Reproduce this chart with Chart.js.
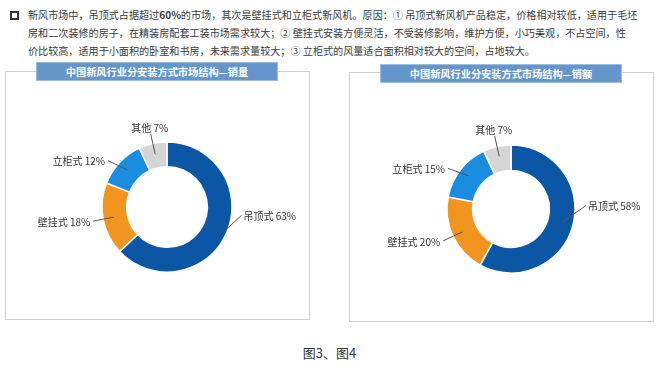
<!DOCTYPE html>
<html><head><meta charset="utf-8">
<script src="https://cdn.jsdelivr.net/npm/chart.js@4.4.0/dist/chart.umd.min.js"></script>
<style>
html,body{margin:0;padding:0;background:#fff;width:659px;height:370px;overflow:hidden;font-family:"Noto Sans CJK SC","Noto Sans",sans-serif;}
.para{position:absolute;left:28px;top:6px;font-size:10.1px;line-height:18px;color:#3a3a3a;white-space:nowrap;}
.bullet{position:absolute;left:10px;top:11px;width:5px;height:5px;border:2px solid #333;}
.panel{position:absolute;border:1px solid #cfcfd4;background:#fff;}
.banner{position:absolute;height:17px;background:#6495cb;border:1px solid #9dbde0;color:#fff;font-weight:bold;font-size:10.2px;line-height:17px;text-align:center;white-space:nowrap;}
.cap{position:absolute;left:0;width:659px;top:343px;text-align:center;font-size:13px;color:#333;}
canvas{position:absolute;}
</style></head>
<body>
<div class="bullet"></div>
<div class="para">新风市场中，吊顶式占据超过<b>60%</b>的市场，其次是壁挂式和立柜式新风机。原因：① 吊顶式新风机产品稳定，价格相对较低，适用于毛坯<br>房和二次装修的房子，在精装房配套工装市场需求较大；② 壁挂式安装方便灵活，不受装修影响，维护方便，小巧美观，不占空间，性<br>价比较高，适用于小面积的卧室和书房，未来需求量较大；③ 立柜式的风量适合面积相对较大的空间，占地较大。</div>
<div class="panel" style="left:5px;top:71px;width:303px;height:247px;"></div>
<div class="panel" style="left:349px;top:72px;width:303px;height:248px;"></div>
<div class="banner" style="left:36px;top:62px;width:240px;">中国新风行业分安装方式市场结构—销量</div>
<div class="banner" style="left:380px;top:64px;width:240px;">中国新风行业分安装方式市场结构—销额</div>
<canvas id="c1" width="300" height="240" style="left:17px;top:87px;"></canvas>
<canvas id="c2" width="290" height="240" style="left:366px;top:89px;"></canvas>
<div class="cap">图3、图4</div>
<script>
const categories = ["吊顶式", "壁挂式", "立柜式", "其他"];
const salesVolume = [63, 18, 12, 7];
const salesValue = [58, 20, 15, 7];
const colors = ["#0b57a6", "#f1951f", "#1a8de0", "#d5d5d5"];

const leaderPlugin = {
  id: 'leaders',
  afterDatasetsDraw(chart, args, opts) {
    const ctx = chart.ctx;
    const meta = chart.getDatasetMeta(0);
    const data = chart.data.datasets[0].data;
    ctx.save();
    ctx.font = '10px "Noto Sans CJK SC", sans-serif';
    ctx.fillStyle = '#333';
    ctx.strokeStyle = '#555';
    ctx.lineWidth = 1;
    meta.data.forEach((arc, i) => {
      const p = arc.getProps(['x','y','startAngle','endAngle','outerRadius','innerRadius'], true);
      const mid = (p.startAngle + p.endAngle) / 2;
      const r1 = (opts.r1 && opts.r1[i]) || 54;
      const a2 = mid + (opts.shift[i] || 0) * Math.PI / 180;
      const r2 = 75;
      const x1 = p.x + Math.cos(mid) * r1, y1 = p.y + Math.sin(mid) * r1;
      const x2 = p.x + Math.cos(a2) * r2, y2 = p.y + Math.sin(a2) * r2;
      ctx.beginPath(); ctx.moveTo(x1, y1); ctx.lineTo(x2, y2); ctx.stroke();
      const txt = chart.data.labels[i] + ' ' + data[i] + '%';
      const cx = Math.cos(a2);
      if (Math.abs(cx) < 0.35) {
        ctx.textAlign = 'center'; ctx.textBaseline = 'bottom';
        ctx.fillText(txt, x2 - 1, y2 - 1);
      } else if (cx > 0) {
        ctx.textAlign = 'left'; ctx.textBaseline = 'middle';
        ctx.fillText(txt, x2 + 2, y2 + 1);
      } else {
        ctx.textAlign = 'right'; ctx.textBaseline = 'middle';
        ctx.fillText(txt, x2 - 3, y2 + 1);
      }
    });
    ctx.restore();
  }
};

function makeChart(id, values, radius, cutout, r1) {
  new Chart(document.getElementById(id), {
    type: 'doughnut',
    data: { labels: categories, datasets: [{ data: values, backgroundColor: colors, borderColor: '#ffffff', borderWidth: 1.5 }] },
    options: {
      responsive: false, animation: false, radius: radius, cutout: cutout,
      plugins: { legend: { display: false }, tooltip: { enabled: false }, leaders: { shift: [-17, 0, -5, 0], r1: r1 } },
      layout: { padding: 0 }
    },
    plugins: [leaderPlugin]
  });
}
makeChart('c1', salesVolume, 65, '62%', [62, 54, 54, 54]);
makeChart('c2', salesValue, 64, '60%', [53, 54, 54, 54]);
</script>
</body></html>
